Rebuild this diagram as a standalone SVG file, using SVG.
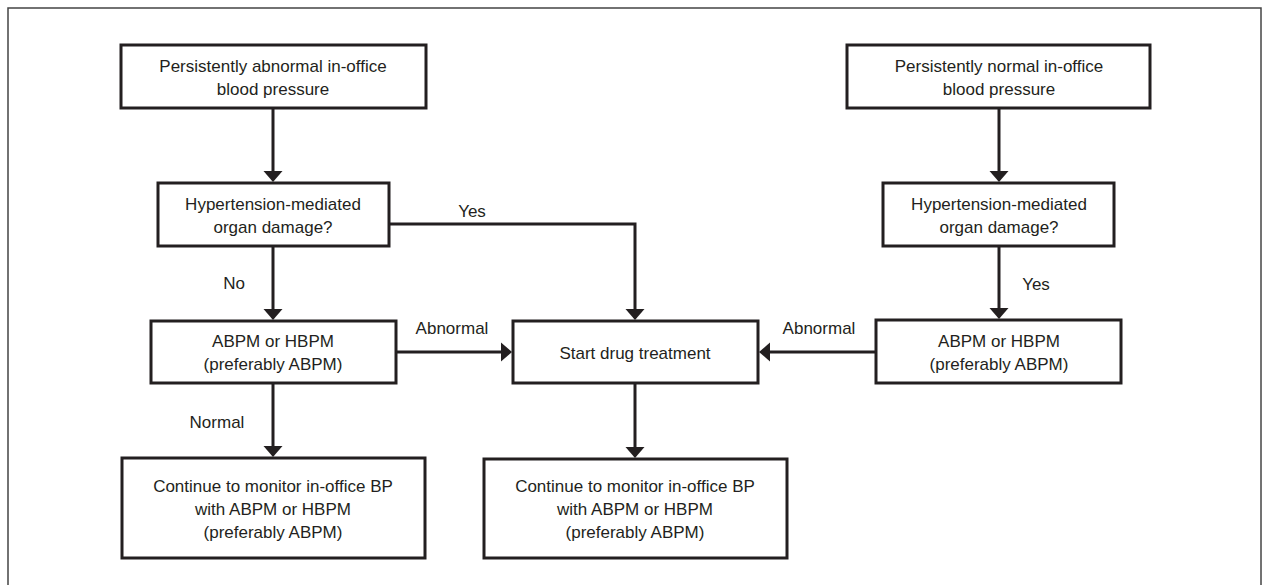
<svg xmlns="http://www.w3.org/2000/svg" width="1266" height="585" viewBox="0 0 1266 585">
  <style>
    .box { fill: #ffffff; stroke: #231f20; stroke-width: 3; }
    .t { font-family: "Liberation Sans", Arial, sans-serif; font-size: 17px; fill: #231f20; text-anchor: middle; }
    .edge { fill: none; stroke: #231f20; stroke-width: 3; marker-end: url(#ah); }
  </style>
  <defs>
    <marker id="ah" markerUnits="userSpaceOnUse" markerWidth="12" markerHeight="20" refX="3" refY="9.5" orient="auto" viewBox="0 0 12 19">
      <path d="M0,0 L11,9.5 L0,19 Z" fill="#231f20"/>
    </marker>
  </defs>
  <rect x="0" y="0" width="1266" height="585" fill="#ffffff"/>
  <rect x="8" y="8" width="1253" height="620" fill="none" stroke="#444444" stroke-width="1.5"/>

  <g id="connectors">
    <path class="edge" d="M273,108 V174"/>
    <path class="edge" d="M273,246 V312"/>
    <path class="edge" d="M389,224 H635 V312"/>
    <path class="edge" d="M396,352 H504"/>
    <path class="edge" d="M273,383 V449"/>
    <path class="edge" d="M635,383 V450"/>
    <path class="edge" d="M999,108 V174"/>
    <path class="edge" d="M999,246 V311"/>
    <path class="edge" d="M876,352 H767"/>
    <text class="t" x="472" y="217">Yes</text>
    <text class="t" x="234" y="289">No</text>
    <text class="t" x="452" y="334">Abnormal</text>
    <text class="t" x="819" y="334">Abnormal</text>
    <text class="t" x="217" y="428">Normal</text>
    <text class="t" x="1036" y="290">Yes</text>
  </g>

  <g id="n1">
    <rect class="box" x="121" y="45" width="305" height="63"/>
    <text class="t" x="273" y="71.5">Persistently abnormal in-office</text>
    <text class="t" x="273" y="94.5">blood pressure</text>
  </g>
  <g id="n2">
    <rect class="box" x="158" y="183" width="231" height="63"/>
    <text class="t" x="273" y="209.5">Hypertension-mediated</text>
    <text class="t" x="273" y="232.5">organ damage?</text>
  </g>
  <g id="n3">
    <rect class="box" x="151" y="321" width="245" height="62"/>
    <text class="t" x="273" y="347">ABPM or HBPM</text>
    <text class="t" x="273" y="370">(preferably ABPM)</text>
  </g>
  <g id="n4">
    <rect class="box" x="513" y="321" width="245" height="62"/>
    <text class="t" x="635" y="358.5">Start drug treatment</text>
  </g>
  <g id="n5">
    <rect class="box" x="122" y="458" width="303" height="100"/>
    <text class="t" x="273" y="491.5">Continue to monitor in-office BP</text>
    <text class="t" x="273" y="514.5">with ABPM or HBPM</text>
    <text class="t" x="273" y="537.5">(preferably ABPM)</text>
  </g>
  <g id="n6">
    <rect class="box" x="484" y="459" width="303" height="99"/>
    <text class="t" x="635" y="492">Continue to monitor in-office BP</text>
    <text class="t" x="635" y="515">with ABPM or HBPM</text>
    <text class="t" x="635" y="538">(preferably ABPM)</text>
  </g>
  <g id="n7">
    <rect class="box" x="847" y="45" width="303" height="63"/>
    <text class="t" x="999" y="71.5">Persistently normal in-office</text>
    <text class="t" x="999" y="94.5">blood pressure</text>
  </g>
  <g id="n8">
    <rect class="box" x="883" y="183" width="231" height="63"/>
    <text class="t" x="999" y="209.5">Hypertension-mediated</text>
    <text class="t" x="999" y="232.5">organ damage?</text>
  </g>
  <g id="n9">
    <rect class="box" x="876" y="320" width="245" height="63"/>
    <text class="t" x="999" y="346.5">ABPM or HBPM</text>
    <text class="t" x="999" y="369.5">(preferably ABPM)</text>
  </g>
</svg>
